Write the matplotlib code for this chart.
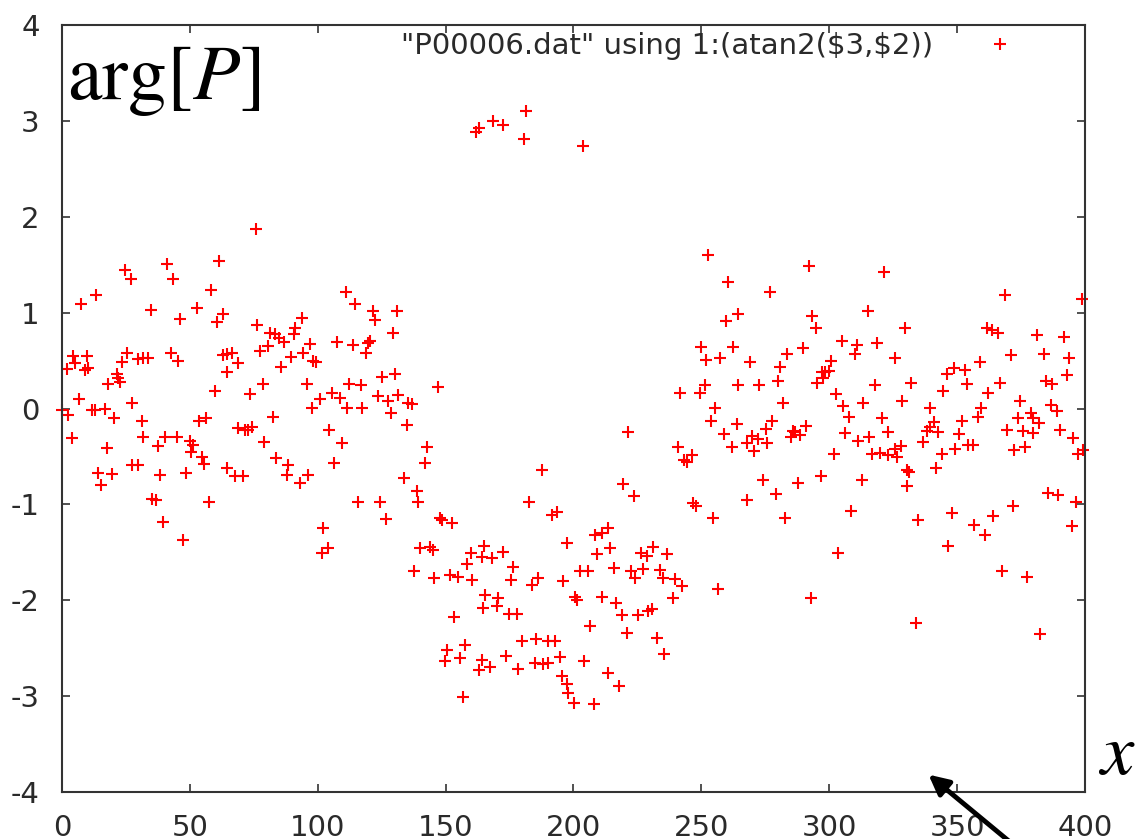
import matplotlib
matplotlib.use('Agg')
import matplotlib.pyplot as plt
import numpy as np

plt.rcParams['font.family'] = 'DejaVu Sans'
plt.rcParams['axes.unicode_minus'] = False
plt.rcParams['mathtext.fontset'] = 'stix'

# phase values, (x, arg) pairs grouped by x range
pts_a = [(0.0, -0.02), (2.3, -0.07), (2.0, 0.41), (3.9, -0.31), (4.3, 0.55), (5.1, 0.47),
         (6.6, 0.10), (7.4, 1.09), (9.0, 0.40), (9.8, 0.55), (10.2, 0.42), (11.7, -0.02),
         (12.9, -0.02), (13.3, 1.18), (14.1, -0.67), (15.2, -0.80), (16.8, -0.01), (17.6, -0.41),
         (18.0, 0.26), (19.6, -0.68), (20.3, -0.10), (21.5, 0.36), (21.9, 0.32), (22.7, 0.28),
         (23.5, 0.48), (24.6, 1.44), (25.4, 0.58), (27.0, 1.35), (27.4, 0.06), (27.4, -0.59),
         (29.7, -0.59), (29.7, 0.52), (31.3, -0.13), (31.7, -0.30)]
pts_b = [(41.1, 1.51), (61.4, 1.54), (43.4, 1.35), (58.3, 1.24), (34.8, 1.03), (52.8, 1.05),
         (46.1, 0.93), (63.0, 0.99), (60.6, 0.90), (31.7, 0.53), (33.6, 0.53), (42.6, 0.58),
         (45.4, 0.50), (63.0, 0.56), (64.5, 0.57), (64.5, 0.38), (59.8, 0.18), (53.6, -0.13),
         (56.3, -0.10), (37.5, -0.39), (40.3, -0.30), (45.0, -0.30), (50.0, -0.34), (51.2, -0.38),
         (50.4, -0.45), (54.7, -0.51), (55.5, -0.58), (38.3, -0.69), (48.5, -0.67), (64.5, -0.62),
         (35.2, -0.94), (36.8, -0.95), (57.5, -0.97), (39.5, -1.18), (47.3, -1.37)]
pts_c = [(75.9, 1.87), (76.2, 0.87), (81.3, 0.79), (83.3, 0.78), (84.8, 0.74), (86.8, 0.69),
         (93.8, 0.94), (91.1, 0.84), (90.7, 0.78), (66.5, 0.58), (77.4, 0.60), (80.5, 0.65),
         (68.8, 0.47), (89.5, 0.54), (85.6, 0.43), (94.2, 0.58), (97.0, 0.67), (98.1, 0.50),
         (78.6, 0.26), (95.8, 0.26), (73.5, 0.15), (97.8, 0.01), (82.5, -0.09), (68.8, -0.20),
         (71.6, -0.22), (72.7, -0.22), (74.3, -0.19), (79.0, -0.35), (83.7, -0.52), (88.4, -0.59),
         (88.0, -0.69), (67.6, -0.70), (70.8, -0.70), (93.1, -0.78), (96.2, -0.69)]
pts_d = [(111.0, 1.21), (114.6, 1.09), (121.6, 1.02), (122.4, 0.92), (131.0, 1.02), (129.4, 0.79),
         (107.5, 0.69), (113.8, 0.66), (119.6, 0.68), (120.4, 0.70), (118.9, 0.58), (99.3, 0.48),
         (125.1, 0.33), (130.2, 0.36), (112.2, 0.26), (116.9, 0.24), (105.6, 0.16), (108.7, 0.11),
         (100.9, 0.10), (111.4, 0.01), (117.3, 0.01), (123.6, 0.13), (127.5, 0.08), (128.6, -0.05),
         (131.4, 0.14), (104.4, -0.22), (109.5, -0.36), (106.4, -0.57), (115.7, -0.98), (124.3, -0.98),
         (126.7, -1.15), (102.1, -1.25), (101.7, -1.51), (104.0, -1.46)]
pts_e = [(147.0, 0.22), (135.3, 0.06), (136.9, 0.05), (134.9, -0.17), (142.7, -0.40), (141.9, -0.57),
         (133.7, -0.72), (138.8, -0.86), (139.2, -0.98), (147.8, -1.14), (148.6, -1.16), (152.5, -1.19),
         (140.0, -1.45), (143.9, -1.44), (145.1, -1.48), (159.9, -1.51), (158.4, -1.62), (164.2, -1.55),
         (137.6, -1.70), (145.5, -1.77), (151.7, -1.74), (154.8, -1.76), (160.3, -1.79), (164.6, -2.08),
         (153.3, -2.17), (157.6, -2.47), (150.5, -2.52), (149.8, -2.63), (155.6, -2.60), (163.0, -2.73),
         (156.8, -3.01)]
pts_f = [(162.0, 2.88), (163.2, 2.93), (168.5, 3.00), (172.4, 2.96), (181.4, 3.10), (180.6, 2.81),
         (187.7, -0.64), (182.6, -0.98), (191.6, -1.11), (193.5, -1.08), (197.5, -1.40), (165.0, -1.43),
         (168.1, -1.56), (172.4, -1.50), (176.3, -1.65), (175.6, -1.79), (186.1, -1.77), (183.8, -1.84),
         (195.9, -1.80), (165.4, -1.95), (170.5, -1.98), (170.1, -2.06), (174.8, -2.14), (177.9, -2.14),
         (179.9, -2.43), (185.3, -2.40), (190.0, -2.42), (192.8, -2.43), (194.7, -2.59), (164.2, -2.62),
         (167.3, -2.70), (173.6, -2.58), (178.3, -2.72), (184.9, -2.65), (188.1, -2.66), (190.0, -2.65),
         (195.5, -2.79), (197.5, -2.87)]
pts_g = [(203.7, 2.74), (221.3, -0.24), (219.4, -0.79), (223.7, -0.91), (208.4, -1.32), (211.1, -1.30),
         (213.5, -1.25), (209.2, -1.52), (214.3, -1.46), (226.4, -1.51), (228.7, -1.54), (231.1, -1.44),
         (202.5, -1.69), (205.7, -1.70), (215.8, -1.66), (222.5, -1.70), (224.1, -1.77), (227.2, -1.67),
         (200.6, -1.97), (201.4, -2.00), (211.1, -1.97), (216.7, -2.03), (219.0, -2.15), (225.2, -2.15),
         (229.1, -2.11), (230.7, -2.09), (206.4, -2.27), (220.9, -2.34), (232.5, -2.39), (204.1, -2.63),
         (213.5, -2.76), (217.8, -2.89), (197.8, -2.97), (200.2, -3.07), (208.0, -3.08), (235.6, -2.56)]
pts_h = [(252.6, 1.60), (260.4, 1.32), (264.3, 0.99), (259.6, 0.91), (249.8, 0.64), (251.8, 0.51),
         (257.3, 0.53), (262.4, 0.64), (264.3, 0.25), (251.4, 0.25), (249.5, 0.16), (241.6, 0.16),
         (255.3, 0.01), (253.8, -0.13), (258.8, -0.27), (262.0, -0.40), (263.9, -0.16), (240.9, -0.40),
         (246.3, -0.49), (244.4, -0.56), (243.2, -0.54), (246.7, -0.99), (247.9, -1.02), (254.5, -1.14),
         (236.6, -1.52), (233.8, -1.68), (235.0, -1.77), (239.7, -1.78), (242.4, -1.85), (256.5, -1.88),
         (238.9, -1.98)]
pts_i = [(292.1, 1.49), (276.8, 1.21), (293.3, 0.97), (294.8, 0.84), (269.0, 0.49), (283.5, 0.57),
         (289.7, 0.63), (280.7, 0.43), (280.0, 0.29), (272.5, 0.24), (297.2, 0.38), (295.2, 0.27),
         (281.9, 0.06), (277.6, -0.13), (275.3, -0.21), (269.8, -0.29), (267.8, -0.36), (272.1, -0.32),
         (270.6, -0.44), (275.7, -0.36), (285.8, -0.23), (285.0, -0.30), (286.6, -0.25), (288.6, -0.28),
         (290.9, -0.18), (274.1, -0.75), (267.8, -0.95), (279.2, -0.89), (287.8, -0.78), (282.7, -1.14),
         (296.8, -0.70), (292.9, -1.98)]
pts_j = [(321.4, 1.42), (315.1, 1.02), (329.6, 0.84), (305.0, 0.70), (310.8, 0.66), (310.1, 0.57),
         (318.7, 0.68), (325.7, 0.53), (300.7, 0.50), (298.3, 0.38), (299.9, 0.39), (297.6, 0.32),
         (317.9, 0.24), (302.7, 0.15), (305.4, 0.03), (307.8, -0.09), (313.3, 0.06), (328.5, 0.08),
         (320.7, -0.10), (323.0, -0.24), (306.2, -0.26), (311.2, -0.34), (315.5, -0.30), (319.8, -0.46),
         (323.0, -0.49), (325.7, -0.42), (326.5, -0.51), (328.0, -0.39), (316.7, -0.47), (301.8, -0.47),
         (330.4, -0.64), (330.4, -0.81), (312.8, -0.75), (308.5, -1.07), (303.4, -1.51)]
pts_k = [(361.7, 0.84), (363.6, 0.82), (358.9, 0.48), (346.0, 0.36), (348.8, 0.42), (353.1, 0.40),
         (353.9, 0.26), (332.0, 0.27), (344.5, 0.18), (362.1, 0.16), (339.4, 0.01), (359.3, 0.01),
         (358.2, -0.09), (351.9, -0.13), (340.9, -0.14), (339.4, -0.19), (338.2, -0.23), (342.5, -0.24),
         (336.6, -0.35), (350.7, -0.27), (349.1, -0.42), (354.2, -0.38), (356.2, -0.38), (344.1, -0.47),
         (341.7, -0.62), (331.2, -0.66), (334.7, -1.16), (348.0, -1.09), (356.6, -1.22), (360.9, -1.32),
         (346.4, -1.43), (364.1, -1.12), (334.0, -2.24)]
pts_l = [(368.7, 1.18), (398.8, 1.14), (366.0, 0.79), (381.3, 0.77), (391.8, 0.75), (371.1, 0.56),
         (384.0, 0.57), (393.8, 0.53), (393.0, 0.35), (366.8, 0.27), (384.8, 0.29), (387.1, 0.26),
         (374.6, 0.08), (386.7, 0.04), (389.0, -0.03), (373.8, -0.10), (378.9, -0.05), (379.7, -0.10),
         (382.0, -0.15), (369.5, -0.22), (375.8, -0.23), (379.7, -0.26), (390.2, -0.22), (395.3, -0.31),
         (399.2, -0.43), (372.3, -0.43), (376.6, -0.40), (397.2, -0.47), (385.6, -0.88), (389.5, -0.90),
         (396.6, -0.97), (371.9, -1.02), (395.0, -1.23), (367.6, -1.70), (377.4, -1.76), (382.5, -2.35)]

x_ticks = [0, 50, 100, 150, 200, 250, 300, 350, 400]
y_ticks = [-4, -3, -2, -1, 0, 1, 2, 3, 4]
legend_label = '"P00006.dat" using 1:(atan2(\\$3,\\$2))'

all_pts = np.array(pts_a + pts_b + pts_c + pts_d + pts_e + pts_f +
                   pts_g + pts_h + pts_i + pts_j + pts_k + pts_l)

fig = plt.figure(figsize=(11.37, 8.39), dpi=100)
ax = fig.add_axes([0.0545, 0.056, 0.8997, 0.9142])

ax.plot(all_pts[:, 0], all_pts[:, 1], linestyle='none', marker='+', color='red',
        markersize=9, markeredgewidth=1.5, clip_on=False, label=legend_label)

ax.set_xlim(0, 400)
ax.set_ylim(-4, 4)
ax.set_xticks(x_ticks)
ax.set_yticks(y_ticks)
ax.tick_params(direction='in', length=6, width=1.2, color='#333333',
               top=True, right=True, labelsize=21, labelcolor='#2a2a2a')
ax.tick_params(axis='x', pad=16)
ax.tick_params(axis='y', pad=16)
for sp in ax.spines.values():
    sp.set_color('#333333')
    sp.set_linewidth(1.5)

ax.legend(loc='upper right', bbox_to_anchor=(0.960, 0.991), frameon=False,
          markerfirst=False, fontsize=21, handlelength=3.0, handletextpad=0.8,
          borderaxespad=0, borderpad=0, labelcolor='#2a2a2a')

# big labels added on top of the gnuplot output
ax.text(0.005, 0.904, r'$\mathrm{arg}[P]$', transform=ax.transAxes,
        fontsize=56, ha='left', va='baseline')
ax.text(1.013, 0.022, r'$x$', transform=ax.transAxes, fontsize=54,
        ha='left', va='baseline', clip_on=False)
ax.annotate('', xy=(338.0, -3.80), xytext=(372, -4.55),
            arrowprops=dict(arrowstyle='-|>', lw=3.5, color='black', mutation_scale=30),
            annotation_clip=False)

fig.savefig('out.png', dpi=100)
